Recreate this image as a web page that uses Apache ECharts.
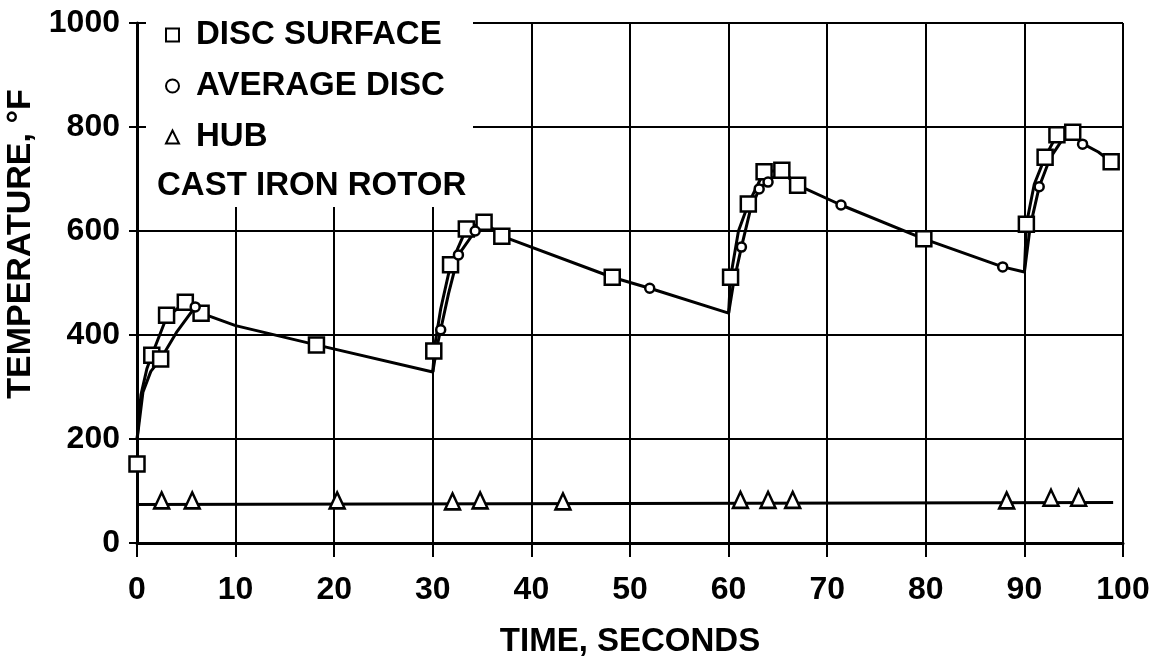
<!DOCTYPE html>
<html>
<head>
<meta charset="utf-8">
<script src="https://cdn.jsdelivr.net/npm/echarts@6/dist/echarts.min.js"></script>
<style>
  html, body { margin: 0; padding: 0; background: #fff; }
  #chart { width: 1158px; height: 656px; }
</style>
</head>
<body>
<div id="chart"></div>
<script>
const FONT = '"Liberation Sans", Arial, Helvetica, sans-serif';

// Axis ticks
const timeTicks = [0, 10, 20, 30, 40, 50, 60, 70, 80, 90, 100];
const tempTicks = [0, 200, 400, 600, 800, 1000];

// Measured points: [time s, temperature °F]
const discSurface = [
  [0, 152], [1.5, 361], [2.4, 354], [3.0, 438], [4.9, 463], [6.5, 442], [18.2, 381],
  [30.1, 369], [31.8, 535], [33.4, 604], [35.2, 617], [37.0, 590], [48.2, 511],
  [60.2, 511], [62.0, 652], [63.6, 714], [65.4, 717], [67.0, 688], [79.8, 585],
  [90.2, 613], [92.1, 742], [93.3, 785], [94.9, 790], [98.8, 733]
];
const averageDisc = [
  [5.9, 454], [30.8, 410], [32.6, 554], [34.3, 600], [52.0, 490],
  [61.3, 569], [63.1, 681], [64.0, 694], [71.4, 650], [87.8, 531],
  [91.5, 685], [95.9, 767]
];
const hub = [
  [2.5, 82], [5.6, 82], [20.3, 82], [32.0, 80], [34.8, 82], [43.2, 80],
  [61.2, 83], [64.0, 83], [66.5, 83], [88.2, 82], [92.7, 87], [95.5, 87]
];

// Faired curves through the data
const surfaceCurve = [
  [0, 198], [0.4, 285], [1.0, 335], [1.5, 361], [3.0, 434], [4.9, 463], [6.5, 442],
  [10, 418], [18.2, 381], [30, 329],
  [30.2, 380], [30.8, 450], [31.8, 535], [33.4, 604], [35.2, 617], [37, 590],
  [48.2, 511], [52, 490], [60, 442],
  [60.2, 511], [61, 600], [62, 652], [63.6, 714], [65.4, 717], [67, 688],
  [71.4, 650], [79.8, 585], [87.8, 531], [90, 521],
  [90.2, 613], [91, 690], [92.1, 742], [93.3, 785], [94.9, 790], [96, 767],
  [97.5, 752], [98.8, 733]
];
const averageRise1 = [[0, 198], [0.6, 290], [1.4, 330], [2.4, 354], [4.0, 405], [5.9, 454], [6.5, 442]];
const averageRise2 = [[30, 329], [30.4, 375], [30.8, 410], [31.6, 480], [32.6, 554], [34.3, 600], [35.5, 612], [37, 590]];
const averageRise3 = [[60, 442], [60.5, 500], [61.3, 569], [62.2, 640], [63.1, 681], [64.2, 700], [65.5, 712], [67, 688]];
const averageRise4 = [[90, 521], [90.6, 610], [91.5, 685], [92.6, 740], [94, 780], [95, 790], [96, 767]];
const hubCurve = [[0, 74], [99, 78]];

const chart = echarts.init(document.getElementById('chart'), null, { renderer: 'canvas' });

const curve = (name, data) => ({
  name, type: 'line', data, showSymbol: false, symbol: 'none', silent: true, z: 2,
  lineStyle: { color: '#000', width: 3 }, animation: false
});
const markers = (name, data, symbol, size) => ({
  name, type: 'scatter', data, symbol, symbolSize: size, z: 3, animation: false,
  itemStyle: { color: '#fff', borderColor: '#000', borderWidth: 2.5, opacity: 1 }
});

chart.setOption({
  backgroundColor: '#fff',
  animation: false,
  grid: { left: 137, right: 35, top: 23, bottom: 113, outerBoundsMode: 'none', containLabel: false },
  xAxis: {
    type: 'value',
    min: timeTicks[0], max: timeTicks[timeTicks.length - 1], interval: 10,
    name: 'TIME, SECONDS', nameLocation: 'middle', nameGap: 82,
    nameTextStyle: { fontFamily: FONT, fontWeight: 'bold', fontSize: 33, color: '#000' },
    axisLine: { show: true, lineStyle: { color: '#000', width: 3 } },
    axisTick: { show: true, length: 14, lineStyle: { color: '#000', width: 2 } },
    axisLabel: { fontFamily: FONT, fontWeight: 'bold', fontSize: 32, color: '#000', margin: 31,
      formatter: v => String(v) },
    splitLine: { show: true, lineStyle: { color: '#000', width: 2 } }
  },
  yAxis: {
    type: 'value',
    min: tempTicks[0], max: tempTicks[tempTicks.length - 1], interval: 200,
    name: 'TEMPERATURE, °F', nameLocation: 'middle', nameGap: 92,
    nameTextStyle: { fontFamily: FONT, fontWeight: 'bold', fontSize: 34, color: '#000', padding: [0, 0, 0, 78] },
    axisLine: { show: true, lineStyle: { color: '#000', width: 3 } },
    axisTick: { show: true, length: 8, lineStyle: { color: '#000', width: 2 } },
    axisLabel: { fontFamily: FONT, fontWeight: 'bold', fontSize: 32, color: '#000', margin: 17,
      formatter: v => String(v) },
    splitLine: { show: true, lineStyle: { color: '#000', width: 2 } }
  },
  legend: {
    data: ['DISC SURFACE', 'AVERAGE DISC', 'HUB'],
    orient: 'vertical', left: 160, top: 13,
    itemWidth: 13, itemHeight: 13, itemGap: 17,
    selectedMode: false,
    textStyle: { fontFamily: FONT, fontWeight: 'bold', fontSize: 33, color: '#000', lineHeight: 34, padding: [0, 0, 0, 12] }
  },
  graphic: [
    // blank panel behind the key
    { type: 'rect', left: 146, top: 0, shape: { width: 327, height: 207 }, style: { fill: '#fff' }, z: 1, silent: true },
    { type: 'text', left: 157, top: 169, z: 5, silent: true,
      style: { text: 'CAST IRON ROTOR', font: 'bold 33px ' + FONT, fill: '#000' } }
  ],
  series: [
    curve('surface curve', surfaceCurve),
    curve('average curve 1', averageRise1),
    curve('average curve 2', averageRise2),
    curve('average curve 3', averageRise3),
    curve('average curve 4', averageRise4),
    curve('hub curve', hubCurve),
    markers('DISC SURFACE', discSurface, 'rect', 15),
    markers('AVERAGE DISC', averageDisc, 'circle', 9),
    markers('HUB', hub, 'triangle', [15, 16])
  ]
});
</script>
</body>
</html>
